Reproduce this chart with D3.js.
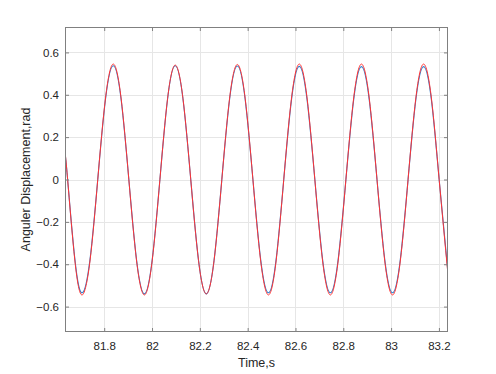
<!DOCTYPE html>
<html>
<head>
<meta charset="utf-8">
<script src="https://cdn.jsdelivr.net/npm/d3@7"></script>
<style>
  body { margin: 0; background: #fff; }
  text { font-family: "Liberation Sans", Arial, sans-serif; fill: #262626; }
</style>
</head>
<body>
<div id="container"></div>
<script>
/* CONSTANTS AND GLOBALS */
const width = 496;
const height = 374;
const margin = { top: 27, right: 48, bottom: 42, left: 65 };

/* DATA (peaks, troughs, zero crossings and points between) */
const times = [
  81.636, 81.647, 81.6775, 81.708, 81.7405, 81.773, 81.8055, 81.838, 81.8705, 81.903,
  81.9355, 81.968, 82.0005, 82.033, 82.065, 82.097, 82.1295, 82.162, 82.1945, 82.227,
  82.2595, 82.292, 82.3245, 82.357, 82.3895, 82.422, 82.4545, 82.487, 82.519, 82.551,
  82.5835, 82.616, 82.6485, 82.681, 82.7135, 82.746, 82.7785, 82.811, 82.8435, 82.876,
  82.9085, 82.941, 82.9735, 83.006, 83.0385, 83.071, 83.1035, 83.136, 83.1685, 83.201,
  83.238
];

const blueValues = [
  0.125, 0, -0.378, -0.535, -0.378, 0, 0.38, 0.537, 0.38, 0,
  -0.382, -0.54, -0.382, 0, 0.38, 0.537, 0.38, 0, -0.382, -0.54,
  -0.382, 0, 0.379, 0.536, 0.379, 0, -0.378, -0.535, -0.378, 0,
  0.377, 0.534, 0.377, 0, -0.378, -0.535, -0.378, 0, 0.377, 0.533,
  0.377, 0, -0.378, -0.535, -0.378, 0, 0.377, 0.533, 0.377, 0,
  -0.44
];

const redValues = [
  0.13, 0, -0.385, -0.545, -0.385, 0, 0.385, 0.545, 0.385, 0,
  -0.385, -0.545, -0.385, 0, 0.382, 0.54, 0.382, 0, -0.382, -0.54,
  -0.382, 0, 0.384, 0.543, 0.384, 0, -0.385, -0.545, -0.385, 0,
  0.385, 0.545, 0.385, 0, -0.385, -0.545, -0.385, 0, 0.385, 0.545,
  0.385, 0, -0.385, -0.545, -0.385, 0, 0.385, 0.545, 0.385, 0,
  -0.45
];

const xTicks = [81.8, 82, 82.2, 82.4, 82.6, 82.8, 83, 83.2];
const yTicks = [-0.6, -0.4, -0.2, 0, 0.2, 0.4, 0.6];
const xDomain = [81.636, 83.238];
const yDomain = [-0.72, 0.72];

/* SCALES */
const xScale = d3.scaleLinear()
  .domain(xDomain)
  .range([margin.left, width - margin.right]);

const yScale = d3.scaleLinear()
  .domain(yDomain)
  .range([height - margin.bottom, margin.top]);

/* SVG */
const svg = d3.select("#container")
  .append("svg")
  .attr("width", width)
  .attr("height", height);

svg.append("clipPath")
  .attr("id", "plotClip")
  .append("rect")
  .attr("x", margin.left)
  .attr("y", margin.top)
  .attr("width", width - margin.left - margin.right)
  .attr("height", height - margin.top - margin.bottom);

// GRID
svg.append("g")
  .selectAll("line")
  .data(xTicks)
  .join("line")
  .attr("x1", d => Math.round(xScale(d)) + 0.5)
  .attr("x2", d => Math.round(xScale(d)) + 0.5)
  .attr("y1", margin.top)
  .attr("y2", height - margin.bottom)
  .attr("stroke", "#e6e6e6");

svg.append("g")
  .selectAll("line")
  .data(yTicks)
  .join("line")
  .attr("y1", d => Math.round(yScale(d)) + 0.5)
  .attr("y2", d => Math.round(yScale(d)) + 0.5)
  .attr("x1", margin.left)
  .attr("x2", width - margin.right)
  .attr("stroke", "#e6e6e6");

// LINES
const lineGen = (vals) => d3.line()
  .x((d, i) => xScale(times[i]))
  .y(d => yScale(d))
  .curve(d3.curveNatural)(vals);

const plot = svg.append("g").attr("clip-path", "url(#plotClip)");

plot.append("path")
  .attr("d", lineGen(blueValues))
  .attr("fill", "none")
  .attr("stroke", "#2f80cf")
  .attr("stroke-width", 1.1);

plot.append("path")
  .attr("d", lineGen(redValues))
  .attr("fill", "none")
  .attr("stroke", "#ff3333")
  .attr("stroke-width", 1);

// AXES
const fmt = d => d3.format("")(+d.toFixed(2));

const xAxis = d3.axisBottom(xScale).tickValues(xTicks).tickSize(-4).tickPadding(10).tickFormat(fmt);
const xAxisTop = d3.axisTop(xScale).tickValues(xTicks).tickSize(-4).tickFormat("");
const yAxis = d3.axisLeft(yScale).tickValues(yTicks).tickSize(-4).tickPadding(6).tickFormat(fmt);
const yAxisRight = d3.axisRight(yScale).tickValues(yTicks).tickSize(-4).tickFormat("");

const styleAxis = g => {
  g.select(".domain").remove();
  g.selectAll(".tick line").attr("stroke", "#808080");
  g.selectAll(".tick text")
    .style("font-family", "'Liberation Sans', Arial, sans-serif")
    .style("font-size", "11.5px")
    .attr("fill", "#262626");
};

svg.append("g")
  .attr("transform", `translate(0, ${height - margin.bottom})`)
  .call(xAxis).call(styleAxis);

svg.append("g")
  .attr("transform", `translate(0, ${margin.top})`)
  .call(xAxisTop).call(styleAxis);

svg.append("g")
  .attr("transform", `translate(${margin.left}, 0)`)
  .call(yAxis).call(styleAxis);

svg.append("g")
  .attr("transform", `translate(${width - margin.right}, 0)`)
  .call(yAxisRight).call(styleAxis);

// BOX
svg.append("rect")
  .attr("x", margin.left + 0.5)
  .attr("y", margin.top + 0.5)
  .attr("width", width - margin.left - margin.right - 1)
  .attr("height", height - margin.top - margin.bottom - 1)
  .attr("fill", "none")
  .attr("stroke", "#808080");

// LABELS
svg.append("text")
  .attr("x", (margin.left + width - margin.right) / 2)
  .attr("y", 366.5)
  .attr("text-anchor", "middle")
  .style("font-size", "12.5px")
  .text("Time,s");

svg.append("text")
  .attr("transform", `translate(30, ${yScale(0)}) rotate(-90)`)
  .attr("text-anchor", "middle")
  .style("font-size", "12.5px")
  .text("Anguler Displacement,rad");
</script>
</body>
</html>
